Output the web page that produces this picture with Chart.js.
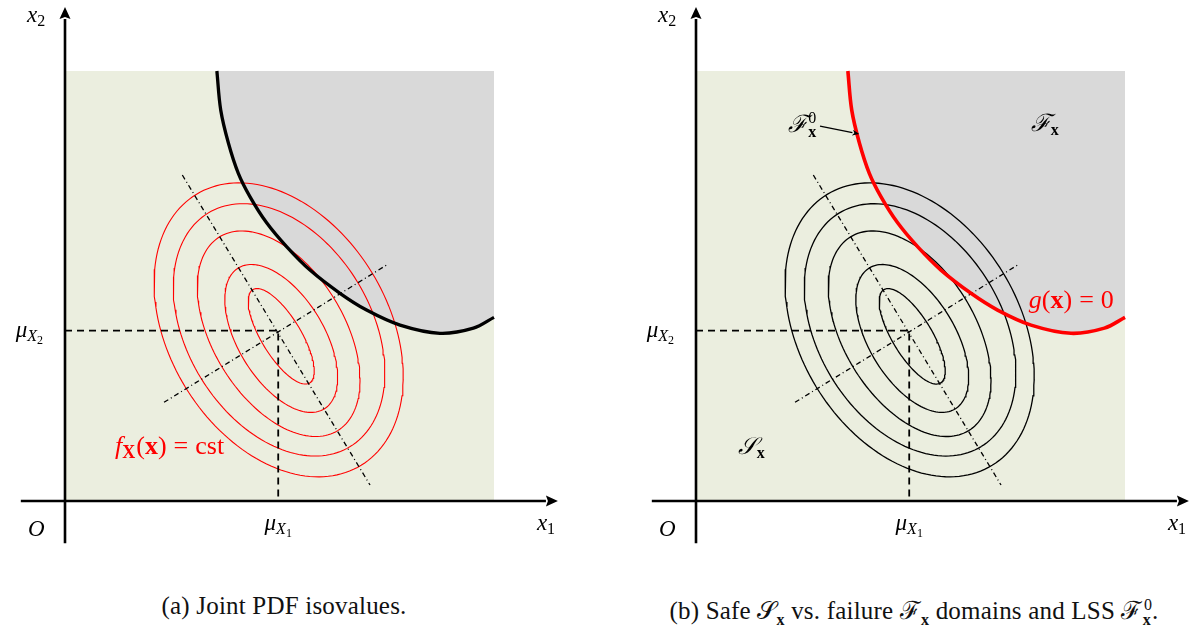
<!DOCTYPE html>
<html>
<head>
<meta charset="utf-8">
<script src="https://cdn.jsdelivr.net/npm/chart.js@4.4.1/dist/chart.umd.min.js"></script>
<style>
  body { margin: 0; background: #fff; width: 1200px; height: 626px; position: relative; overflow: hidden; }
  canvas { position: absolute; top: 0; }
  #chartA { left: 0; }
  #chartB { left: 631px; }
  .cap { position: absolute; top: 592px; width: 600px; text-align: center; font-family: "Liberation Serif", "Times New Roman", serif; font-size: 25px; letter-spacing: 0.2px; color: #111; white-space: nowrap; }
  .cap sub, .cap sup { font-size: 16px; line-height: 0; }
  .cap b { font-weight: bold; }
  #capA { left: -16px; }
  #capB { left: 614px; }
</style>
</head>
<body>
<canvas id="chartA" width="569" height="560"></canvas>
<canvas id="chartB" width="569" height="560"></canvas>
<div class="cap" id="capA">(a) Joint PDF isovalues.</div>
<div class="cap" id="capB">(b) Safe 𝒮<sub><b>x</b></sub> vs. failure ℱ<sub><b>x</b></sub> domains and LSS ℱ<sub><b>x</b></sub><sup style="margin-left:-7px">0</sup>.</div>

<script>
// mean point
const meanX = 4.97;
const meanY = 3.96;

// limit state g(x) = 0
const lsfX = [3.54, 3.63, 3.81, 4.04, 4.31, 4.70, 5.17, 5.71, 6.41, 7.03, 7.81, 8.74, 9.52, 10.0];
const lsfY = [10.0, 9.09, 8.32, 7.62, 7.08, 6.47, 5.91, 5.37, 4.83, 4.44, 4.09, 3.90, 4.02, 4.27];

// isoprobability ellipses (centre, semi axes), all with the same tilt
const ellCx = [4.98, 4.99, 4.98, 5.04, 5.04];
const ellCy = [3.98, 3.98, 3.89, 3.78, 3.83];
const ellA = [3.69, 3.18, 2.64, 1.92, 1.27];
const ellB = [2.55, 2.14, 1.53, 1.00, 0.46];
const ellAngle = -58.6;

// principal directions (dash-dot)
const majorX = [2.735, 7.110];
const majorY = [7.581, 0.372];
const minorX = [2.308, 7.498];
const minorY = [2.295, 5.488];

// domain box and coordinate axes
const boxMax = 10;
const xAxisX = [-1.03, 11.21];
const yAxisY = [-0.98, 11.21];

// pointer to the limit state surface in (b)
const pointerX = [2.89, 3.646];
const pointerY = [8.72, 8.567];

const GREEN = '#EBEEDF';
const GREY = '#D9D9D9';
const RED = '#FF0000';

function pts(xs, ys) {
  return xs.map((v, i) => ({ x: v, y: ys[i] }));
}

function ellipse(i) {
  const th = ellAngle * Math.PI / 180;
  const out = [];
  for (let k = 0; k <= 160; k++) {
    const t = k / 160 * 2 * Math.PI;
    out.push({
      x: ellCx[i] + ellA[i] * Math.cos(th) * Math.cos(t) - ellB[i] * Math.sin(th) * Math.sin(t),
      y: ellCy[i] + ellA[i] * Math.sin(th) * Math.cos(t) + ellB[i] * Math.cos(th) * Math.sin(t)
    });
  }
  return out;
}

const serif = '"Liberation Serif", "Times New Roman", serif';
const IT = 'italic 23px ' + serif;
const RM = '23px ' + serif;
const ITL = 'italic 26px ' + serif;
const RML = '26px ' + serif;
const BDL = 'bold 26px ' + serif;
const SUBI = 'italic 16px ' + serif;
const SUB = '16px ' + serif;
const SUBB = 'bold 16px ' + serif;
const SUBBL = 'bold 18px ' + serif;
const SS = '12px ' + serif;
const CAL = 'italic 24px ' + serif;

// draws math-ish labels and arrow heads with the chart's scales
const mathText = {
  id: 'mathText',
  afterDatasetsDraw(chart, args, opts) {
    const { ctx } = chart;
    const sx = chart.scales.x, sy = chart.scales.y;
    ctx.save();

    chart.data.datasets.forEach(ds => {
      if (!ds.arrow) return;
      const d = ds.data;
      const a = d[d.length - 2], b = d[d.length - 1];
      const ax = sx.getPixelForValue(a.x), ay = sy.getPixelForValue(a.y);
      const bx = sx.getPixelForValue(b.x), by = sy.getPixelForValue(b.y);
      const len = Math.hypot(bx - ax, by - ay);
      const ux = (bx - ax) / len, uy = (by - ay) / len;
      const L = ds.arrow.len, W = ds.arrow.half;
      const tx = bx + ux * L, ty = by + uy * L;
      ctx.fillStyle = ds.borderColor;
      ctx.beginPath();
      ctx.moveTo(tx, ty);
      ctx.lineTo(bx - uy * W, by + ux * W);
      ctx.lineTo(bx + ux * 2, by + uy * 2);
      ctx.lineTo(bx + uy * W, by - ux * W);
      ctx.closePath();
      ctx.fill();
    });

    ctx.textBaseline = 'alphabetic';
    (opts.labels || []).forEach(lab => {
      let px = sx.getPixelForValue(lab.x);
      const py = sy.getPixelForValue(lab.y);
      let w = 0;
      lab.parts.forEach(p => {
        ctx.font = p.f;
        if (p.adv !== false) w += ctx.measureText(p.t).width + (p.gap || 0);
      });
      if (lab.align === 'center') px -= w / 2;
      if (lab.align === 'right') px -= w;
      ctx.fillStyle = lab.color || '#000';
      lab.parts.forEach(p => {
        ctx.font = p.f;
        ctx.fillText(p.t, px + (p.dx || 0), py + (p.dy || 0));
        if (p.adv !== false) px += ctx.measureText(p.t).width + (p.gap || 0);
      });
    });
    ctx.restore();
  }
};

const axisLabels = [
  { x: -0.886, y: 11.14, parts: [{ t: 'x', f: IT }, { t: '2', f: SUB, dy: 4 }] },
  { x: 11.0, y: -0.674, parts: [{ t: 'x', f: IT }, { t: '1', f: SUB, dy: 4 }] },
  { x: -0.86, y: -0.814, parts: [{ t: 'O', f: IT }] },
  { x: meanX, y: -0.674, align: 'center', parts: [{ t: 'μ', f: IT }, { t: 'X', f: SUBI, dy: 4 }, { t: '1', f: SS, dy: 7 }] },
  { x: -0.51, y: 3.814, align: 'right', parts: [{ t: 'μ', f: IT }, { t: 'X', f: SUBI, dy: 4 }, { t: '2', f: SS, dy: 7 }] }
];

function makeChart(id, look) {
  const datasets = [
    { data: pts([0, boxMax], [0, 0]), fill: { value: boxMax }, backgroundColor: GREEN, borderWidth: 0, order: 30 },
    { data: pts(lsfX, lsfY), fill: { value: boxMax }, backgroundColor: GREY, borderWidth: 0, tension: 0.35, order: 29 }
  ];
  for (let i = 0; i < ellCx.length; i++) {
    datasets.push({ data: ellipse(i), borderColor: look.ellColor, borderWidth: look.ellWidth, order: 20 });
  }
  datasets.push(
    { data: pts(majorX, majorY), borderColor: '#000', borderWidth: 1.3, borderDash: [5, 3, 1, 3], order: 15 },
    { data: pts(minorX, minorY), borderColor: '#000', borderWidth: 1.3, borderDash: [5, 3, 1, 3], order: 15 },
    { data: pts([0, meanX, meanX], [meanY, meanY, 0]), borderColor: '#000', borderWidth: 1.8, borderDash: [7, 5], order: 14 },
    { data: pts(lsfX, lsfY), borderColor: look.curveColor, borderWidth: look.curveWidth, tension: 0.35, order: 10 },
    { data: pts(xAxisX, [0, 0]), borderColor: '#000', borderWidth: 2.6, arrow: { len: 12, half: 5.5 }, order: 5 },
    { data: pts([0, 0], yAxisY), borderColor: '#000', borderWidth: 2.6, arrow: { len: 12, half: 5.5 }, order: 5 }
  );
  (look.extra || []).forEach(d => datasets.push(d));
  datasets.forEach(d => { d.showLine = true; d.pointRadius = 0; if (d.fill === undefined) d.fill = false; });

  return new Chart(document.getElementById(id), {
    type: 'scatter',
    data: { datasets },
    options: {
      responsive: false,
      animation: false,
      layout: { padding: 0 },
      scales: {
        x: { type: 'linear', display: false, min: -1.5152, max: 11.748 },
        y: { type: 'linear', display: false, min: -1.372, max: 11.651 }
      },
      plugins: {
        legend: { display: false },
        tooltip: { enabled: false },
        mathText: { labels: axisLabels.concat(look.labels) }
      }
    },
    plugins: [mathText]
  });
}

makeChart('chartA', {
  ellColor: RED, ellWidth: 1.1, curveColor: '#000', curveWidth: 3.3,
  labels: [
    { x: 1.166, y: 1.093, color: RED, parts: [
      { t: 'f', f: ITL }, { t: 'X', f: SUBBL, dy: 4, gap: 1 }, { t: '(', f: RML }, { t: 'x', f: BDL }, { t: ')', f: RML, gap: 7 },
      { t: '=', f: RML, gap: 7 }, { t: 'cst', f: RML }
    ] }
  ]
});

makeChart('chartB', {
  ellColor: '#000', ellWidth: 1.3, curveColor: RED, curveWidth: 3.6,
  extra: [
    { data: pts(pointerX, pointerY), borderColor: '#000', borderWidth: 1.3, arrow: { len: 7, half: 3 }, order: 3 }
  ],
  labels: [
    { x: 2.151, y: 8.588, parts: [{ t: 'ℱ', f: CAL }, { t: 'x', f: SUBB, dy: 5, adv: false }, { t: '0', f: SUB, dy: -9 }] },
    { x: 7.802, y: 8.612, parts: [{ t: 'ℱ', f: CAL }, { t: 'x', f: SUBB, dy: 4 }] },
    { x: 0.972, y: 1.102, parts: [{ t: '𝒮', f: CAL }, { t: 'x', f: SUBB, dy: 4 }] },
    { x: 7.758, y: 4.488, color: RED, parts: [
      { t: 'g', f: ITL }, { t: '(', f: RML }, { t: 'x', f: BDL }, { t: ')', f: RML, gap: 7 }, { t: '=', f: RML, gap: 7 }, { t: '0', f: RML }
    ] }
  ]
});
</script>
</body>
</html>
